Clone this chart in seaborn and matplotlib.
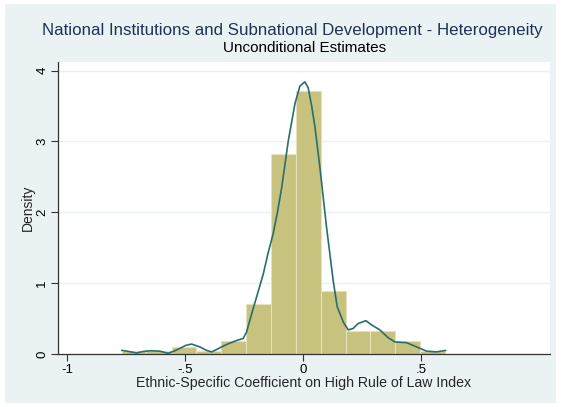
import matplotlib
matplotlib.use("Agg")
import matplotlib.pyplot as plt
import seaborn as sns
import pandas as pd
from matplotlib.patches import Rectangle

# histogram bins (edges) and densities
bin_edges = [-0.770, -0.665, -0.559, -0.454, -0.348, -0.243, -0.138,
             -0.032, 0.073, 0.179, 0.284, 0.390, 0.495, 0.600]
bin_density = [0.047, 0.047, 0.094, 0.047, 0.19, 0.70, 2.82,
               3.71, 0.89, 0.33, 0.33, 0.19, 0.047]

# kernel density curve, traced point by point
kde_x = [-0.770, -0.740, -0.707, -0.680, -0.650, -0.608, -0.573, -0.545,
         -0.523, -0.500, -0.474, -0.439, -0.410, -0.389, -0.370, -0.347,
         -0.315, -0.283, -0.255, -0.241, -0.213, -0.190, -0.170, -0.150,
         -0.128, -0.110, -0.092, -0.064, -0.036, -0.015, 0.006, 0.020,
         0.035, 0.049, 0.070, 0.098, 0.126, 0.143, 0.169, 0.190, 0.211,
         0.232, 0.265, 0.289, 0.324, 0.359, 0.388, 0.437, 0.480, 0.522,
         0.564, 0.603]
kde_y = [0.052, 0.035, 0.015, 0.035, 0.046, 0.040, 0.010, 0.045,
         0.080, 0.120, 0.140, 0.100, 0.050, 0.030, 0.060, 0.100,
         0.150, 0.190, 0.220, 0.310, 0.640, 0.900, 1.130, 1.420,
         1.700, 2.000, 2.350, 3.010, 3.530, 3.780, 3.840, 3.760,
         3.500, 3.200, 2.630, 1.790, 1.040, 0.670, 0.450, 0.340, 0.360,
         0.430, 0.470, 0.410, 0.340, 0.230, 0.170, 0.160, 0.100, 0.040,
         0.030, 0.050]

x_ticks = [-1, -0.5, 0, 0.5]
x_tick_labels = ["-1", "-.5", "0", ".5"]
y_ticks = [0, 1, 2, 3, 4]

sns.set_style("white")
plt.rcParams["font.family"] = ["Liberation Sans", "DejaVu Sans"]

W, H = 561, 407
fig = plt.figure(figsize=(W / 100, H / 100), dpi=100, facecolor="white")

# stata-like graph region behind everything
fig.patches.append(Rectangle((5 / W, 4 / H), 551 / W, 399 / H, transform=fig.transFigure,
                             facecolor="#EAF2F3", edgecolor="none", zorder=-10))

ax = fig.add_axes([58 / W, (H - 354) / H, (550 - 58) / W, (354 - 62) / H])
ax.set_facecolor("white")

centers = [(a + b) / 2 for a, b in zip(bin_edges[:-1], bin_edges[1:])]
hist_df = pd.DataFrame({"x": centers, "w": bin_density})
sns.histplot(data=hist_df, x="x", weights="w", bins=bin_edges, stat="count",
             color="#C8C27F", alpha=1, edgecolor="#E6E2BE", linewidth=0.8, ax=ax)

kde_df = pd.DataFrame({"x": kde_x, "y": kde_y})
sns.lineplot(data=kde_df, x="x", y="y", color="#2A6E69", linewidth=1.2, ax=ax)

ax.set_xlim(-1.04, 1.045)
ax.set_ylim(0, 4.12)
for yv in y_ticks[1:]:
    ax.axhline(yv, color="#EAF2F3", linewidth=1.0, zorder=0)

ax.set_xticks(x_ticks)
ax.set_xticklabels(x_tick_labels)
ax.set_yticks(y_ticks)
ax.set_yticklabels([str(v) for v in y_ticks], rotation=90, va="center")
ax.tick_params(axis="both", direction="out", length=5, width=0.8, color="#333333",
               labelsize=9.5, labelcolor="black", pad=2, bottom=True, left=True)

for side in ["top", "right"]:
    ax.spines[side].set_visible(False)
for side in ["left", "bottom"]:
    ax.spines[side].set_color("#333333")
    ax.spines[side].set_linewidth(0.9)

ax.set_xlabel("Ethnic-Specific Coefficient on High Rule of Law Index", fontsize=10.2, labelpad=0)
ax.set_ylabel("Density", fontsize=10, labelpad=1)

fig.text(292 / W, 1 - 31 / H, "National Institutions and Subnational Development - Heterogeneity",
         ha="center", va="center", fontsize=12.2, color="#1F3354")
fig.text(305 / W, 1 - 48 / H, "Unconditional Estimates",
         ha="center", va="center", fontsize=11, color="black")

fig.savefig("out.png", dpi=100, facecolor="white")
